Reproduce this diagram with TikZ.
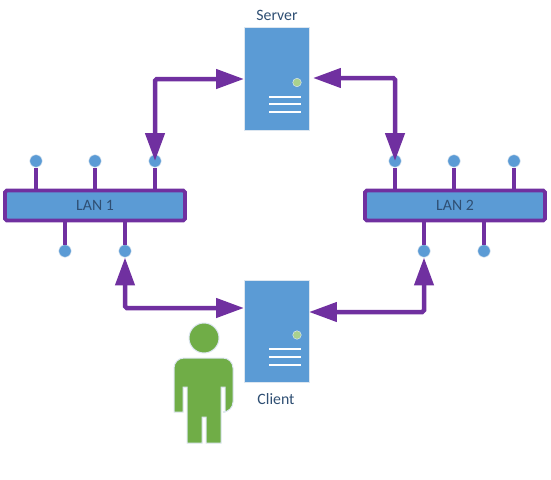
\documentclass[tikz,border=0pt]{standalone}
\usepackage{fontspec}
\setmainfont{Carlito}
\usetikzlibrary{arrows.meta, calc}
\definecolor{boxblue}{HTML}{5B9BD5}
\definecolor{linkpurple}{HTML}{7030A0}
\definecolor{usergreen}{HTML}{70AD47}
\definecolor{ledgreen}{HTML}{A9D18E}
\definecolor{edgegrey}{HTML}{DCE6F0}
\definecolor{labelblue}{HTML}{2F4F73}
\begin{document}
\begin{tikzpicture}[x=0.02cm, y=-0.02cm,
  unit/.style={rectangle, draw=edgegrey, fill=boxblue, line width=0.02cm,
    minimum width=1.3cm, minimum height=2.06cm, inner sep=0pt},
  lan/.style={rectangle, rounded corners=1pt, draw=linkpurple, fill=boxblue, line width=0.075cm,
    minimum width=3.6cm, minimum height=0.6cm, inner sep=0pt, font=\fontsize{9pt}{11pt}\selectfont, text=labelblue},
  port/.style={circle, fill=boxblue, draw=edgegrey, line width=0.01cm, minimum size=0.25cm, inner sep=0pt},
  stub/.style={draw=linkpurple, line width=0.07cm},
  link/.style={draw=linkpurple, line width=0.09cm, rounded corners=1pt,
    {Triangle[length=0.56cm, width=0.38cm]}-{Triangle[length=0.56cm, width=0.38cm]}},
  tag/.style={font=\fontsize{9pt}{11pt}\selectfont, text=labelblue, inner sep=0pt},
  slot/.style={draw=white, line width=0.04cm},
  led/.style={circle, fill=ledgreen, draw=edgegrey, line width=0.01cm, minimum size=0.17cm, inner sep=0pt},
  user/.style={fill=usergreen, draw=edgegrey, line width=0.02cm}]
  \useasboundingbox (0,0) rectangle (551,480);

  \node[unit] (server) at (277,79) {};
  \node[unit] (client) at (277,331.5) {};
  \node[tag] (servertag) at (277,15.5) {Server};
  \node[tag] (clienttag) at (276,399) {Client};

  \node[lan] (lan1) at (95,205.5) {LAN 1};
  \node[lan] (lan2) at (455,205.5) {LAN 2};

  \node[port] (l1a) at (36,161) {};
  \node[port] (l1b) at (95,161) {};
  \node[port] (l1c) at (155,161) {};
  \node[port] (l1d) at (65,251) {};
  \node[port] (l1e) at (125,251) {};
  \node[port] (l2a) at (395,161) {};
  \node[port] (l2b) at (454,161) {};
  \node[port] (l2c) at (514,161) {};
  \node[port] (l2d) at (424,251) {};
  \node[port] (l2e) at (484,251) {};

  % stubs from the bars out to the ports
  \foreach \p in {l1a,l1b,l1c} \draw[stub] (\p) -- (\p |- lan1.north);
  \foreach \p in {l1d,l1e} \draw[stub] (\p) -- (\p |- lan1.south);
  \foreach \p in {l2a,l2b,l2c} \draw[stub] (\p) -- (\p |- lan2.north);
  \foreach \p in {l2d,l2e} \draw[stub] (\p) -- (\p |- lan2.south);

  % front panels
  \foreach \u in {server,client} {
    \draw[slot] ($(\u.center)+(-8,17.5)$) -- ($(\u.center)+(24,17.5)$);
    \draw[slot] ($(\u.center)+(-8,25)$) -- ($(\u.center)+(24,25)$);
    \draw[slot] ($(\u.center)+(-8,33)$) -- ($(\u.center)+(24,33)$);
    \node[led] at ($(\u.center)+(20,3.5)$) {};
  }

  \coordinate (serverright) at (313,78);
  \coordinate (clientleft) at (244,308);
  \coordinate (clientright) at (309,312);

  \draw[link] (l1c.center) |- (server.west);
  \draw[link] (l2a.center) |- (serverright);
  \draw[link] (l1e) |- (clientleft);
  \draw[link] (l2d) |- (clientright);

  % user next to the client
  \node[circle, user, minimum size=0.6cm, inner sep=0pt] (head) at (204,338) {};
  \draw[user, rounded corners=0.2cm] (174,412) -- (174,358) -- (233,358) -- (233,412)
    [sharp corners] -- (225,412) -- (225,387) -- (221,387) -- (221,443) -- (206,443) -- (206,417)
    -- (202,417) -- (202,443) -- (187,443) -- (187,387) -- (183,387) -- (183,412) -- cycle;
\end{tikzpicture}
\end{document}
